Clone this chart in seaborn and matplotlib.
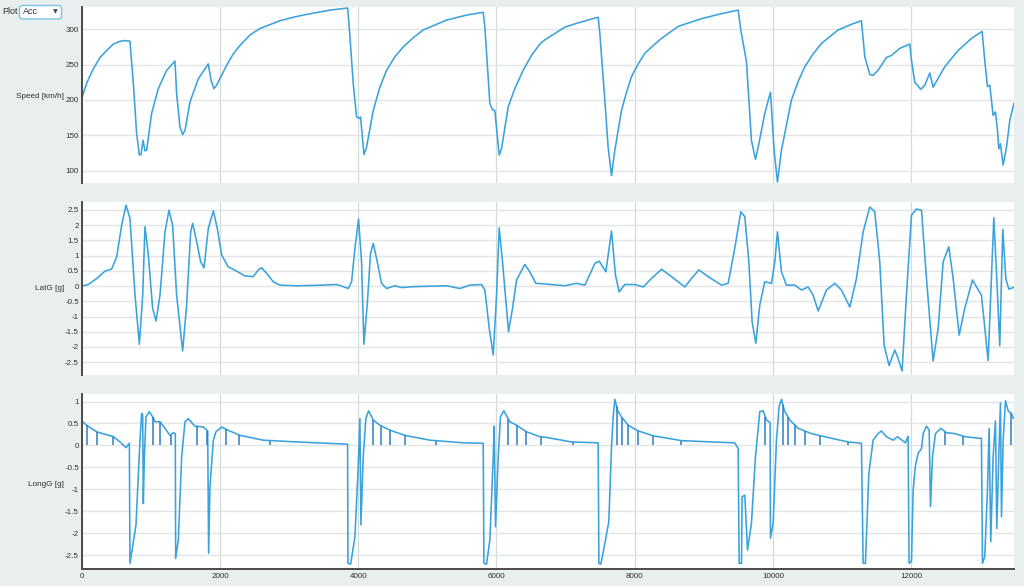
import numpy as np
import pandas as pd
import matplotlib
matplotlib.use('Agg')
import matplotlib.pyplot as plt
from matplotlib.patches import FancyBboxPatch
import seaborn as sns

# Speed trace [km/h] vs distance
speed_x = [0, 72, 168, 265, 361, 458, 554, 626, 698, 747, 795, 834, 858, 887, 915, 939, 1011, 1108,
           1229, 1349, 1373, 1421, 1460, 1494, 1566, 1687, 1831, 1870, 1913, 1952, 2096, 2192, 2289,
           2434, 2578, 2867, 3060, 3253, 3590, 3846, 3870, 3928, 3976, 4014, 4034, 4082, 4120, 4217,
           4313, 4410, 4530, 4651, 4796, 4940, 5278, 5567, 5808, 5832, 5904, 5943, 5976, 6039, 6073,
           6169, 6265, 6386, 6506, 6627, 6699, 6989, 7181, 7471, 7495, 7567, 7615, 7664, 7712, 7808,
           7881, 7953, 8050, 8146, 8267, 8387, 8628, 8965, 9254, 9496, 9534, 9616, 9688, 9746, 9785,
           9881, 9963, 10016, 10064, 10122, 10267, 10363, 10460, 10580, 10701, 10942, 11135, 11279,
           11328, 11400, 11448, 11520, 11641, 11713, 11834, 11979, 12003, 12051, 12138, 12196, 12268,
           12316, 12485, 12678, 12871, 13025, 13063, 13102, 13136, 13160, 13184, 13218, 13247, 13266,
           13290, 13329, 13377, 13425, 13487]
speed_v = [202, 224, 244, 260, 270, 279, 283, 284, 283, 223, 152, 122, 123, 143, 128, 129, 181, 216,
           242, 255, 209, 162, 151, 157, 197, 230, 251, 228, 216, 221, 249, 265, 277,
           292, 301, 312, 317, 321, 327, 330, 303, 223, 176, 174, 176, 123, 133, 185,
           218, 242, 261, 275, 288, 299, 313, 320, 324, 303, 195, 186, 185, 122, 131,
           190, 216, 242, 263, 279, 285, 303, 309, 317, 294, 200, 133, 93, 129, 185,
           211, 233, 251, 266, 277, 287, 304, 315, 322, 327, 299, 254, 143, 116, 133,
           181, 211, 129, 84, 129, 200, 226, 247, 265, 280, 299, 307, 312,
           261, 236, 235, 242, 260, 263, 273, 279, 256, 225, 215, 221, 238,
           218, 247, 270, 287, 297, 256, 219, 221, 200, 178, 183, 157, 131,
           138, 108, 133, 171, 196]

# Lateral acceleration [g]
latg_x = [0, 96, 217, 337, 433, 506, 578, 641, 698, 771, 834, 882, 915, 963, 1026, 1075, 1132, 1205,
          1262, 1315, 1373, 1460, 1518, 1576, 1605, 1663, 1720, 1769, 1831, 1904, 1961, 2024, 2120,
          2241, 2361, 2482, 2554, 2602, 2675, 2771, 2867, 3108, 3349, 3687, 3783, 3856, 3904, 3952,
          4005, 4048, 4082, 4130, 4178, 4217, 4265, 4337, 4410, 4530, 4627, 4796, 5278, 5471, 5615,
          5784, 5832, 5895, 5953, 6001, 6039, 6087, 6174, 6232, 6290, 6410, 6482, 6569, 6699, 6989,
          7158, 7278, 7423, 7485, 7582, 7664, 7721, 7774, 7856, 8001, 8122, 8242, 8387, 8531, 8724,
          8821, 8927, 9062, 9254, 9351, 9447, 9534, 9592, 9650, 9698, 9751, 9809, 9881, 9978, 10026,
          10064, 10122, 10194, 10315, 10412, 10508, 10580, 10653, 10773, 10894, 10990, 11111, 11207,
          11304, 11400, 11472, 11544, 11607, 11679, 11761, 11809, 11867, 11930, 12003, 12075, 12148,
          12220, 12316, 12389, 12461, 12543, 12606, 12693, 12774, 12885, 13015, 13112, 13150, 13194,
          13237, 13280, 13324, 13367, 13411, 13487]
latg_v = [0.0, 0.05, 0.25, 0.49, 0.56, 0.96, 2.0, 2.66, 2.22, -0.3, -1.91, -0.3, 1.95, 1.02, -0.73,
          -1.15, -0.3, 1.78, 2.49, 2.0, -0.3, -2.13, -0.62, 1.78, 2.06, 1.46, 0.8, 0.6, 1.89, 2.47,
          1.89, 1.02, 0.63, 0.49, 0.33, 0.31, 0.53, 0.6, 0.42, 0.14, 0.03, 0.01, 0.02, 0.05, -0.02,
          -0.08, 0.14, 1.24, 2.2, 0.8, -1.91, -0.62, 1.07, 1.4, 0.91, 0.09, -0.08, 0.01, -0.05, -0.02,
          0.01, -0.08, 0.03, 0.05, -0.13, -1.39, -2.26, -0.3, 1.91, 0.8, -1.5, -0.73, 0.2, 0.71, 0.47,
          0.09, 0.07, 0.01, 0.09, 0.03, 0.74, 0.82, 0.47, 1.81, 0.36, -0.19, 0.05, 0.05, -0.03, 0.25,
          0.55, 0.31, -0.03, 0.25, 0.53, 0.31, 0.03, 0.09, 1.24, 2.44, 2.28, 0.8, -1.17, -1.88, -0.62,
          0.14, 0.09, 0.8, 1.78, 0.47, 0.03, 0.03, -0.13, -0.03, -0.3, -0.82, -0.13, 0.09, -0.13,
          -0.69, 0.25, 1.78, 2.6, 2.44, 0.8, -1.94, -2.61, -2.1, -2.37, -2.79, -0.3, 2.33, 2.53, 2.49,
          0.25, -2.46, -1.39, 0.8, 1.29, 0.25, -1.61, -0.73, 0.2, -0.3, -2.45, -0.3, 2.24, 0.25, -1.96,
          1.86, 0.25, -0.1, -0.04]

# Longitudinal acceleration [g]
longg_x = [0, 72, 217, 458, 554, 641, 689, 698, 785, 843, 867, 882, 891, 906, 930, 978, 1026, 1060,
           1132, 1205, 1277, 1325, 1354, 1359, 1397, 1446, 1494, 1542, 1590, 1639, 1759, 1822, 1836,
           1855, 1904, 1942, 2024, 2096, 2289, 2627, 3108, 3846, 3851, 3890, 3952, 4000, 4024, 4039,
           4072, 4111, 4149, 4217, 4313, 4458, 4675, 5037, 5519, 5808, 5818, 5856, 5904, 5953, 5967,
           5986, 6025, 6058, 6106, 6193, 6290, 6434, 6627, 6699, 7085, 7471, 7481, 7510, 7567, 7625,
           7664, 7688, 7712, 7751, 7808, 7905, 8050, 8267, 8676, 9110, 9447, 9496, 9510, 9544, 9553,
           9592, 9631, 9688, 9746, 9809, 9857, 9905, 9958, 9963, 10002, 10050, 10088, 10122, 10170,
           10243, 10363, 10556, 10797, 11086, 11279, 11304, 11337, 11386, 11448, 11520, 11568, 11641,
           11737, 11800, 11867, 11915, 11954, 11968, 12003, 12027, 12061, 12099, 12148, 12172, 12220,
           12259, 12278, 12307, 12350, 12427, 12509, 12630, 12774, 13015, 13030, 13063, 13102, 13126,
           13150, 13184, 13218, 13237, 13266, 13290, 13305, 13329, 13363, 13401, 13449, 13478]
longg_v = [0.56, 0.46, 0.31, 0.2, 0.08, -0.05, 0.05, -2.68, -1.81, 0.12, 0.73, 0.69, -1.32, -0.26,
           0.65, 0.77, 0.65, 0.54, 0.54, 0.39, 0.23, 0.29, 0.27, -2.57, -2.15, -0.26, 0.54, 0.61,
           0.52, 0.44, 0.42, 0.33, -2.45, -0.94, 0.12, 0.31, 0.42, 0.36, 0.23, 0.12, 0.08, 0.03,
           -2.68, -2.7, -2.08, -0.48, 0.61, -1.81, -0.26, 0.61, 0.79, 0.58, 0.46, 0.35, 0.23, 0.12,
           0.06, 0.05, -2.68, -2.7, -2.15, -0.26, 0.44, -1.85, -0.26, 0.65, 0.79, 0.54, 0.46, 0.31,
           0.2, 0.19, 0.08, 0.06, -2.68, -2.7, -2.23, -1.73, -0.03, 0.65, 1.05, 0.8, 0.65, 0.46, 0.33,
           0.22, 0.11, 0.08, 0.06, -0.07, -2.68, -2.68, -1.17, -1.13, -2.38, -1.77, -0.26, 0.77, 0.79,
           0.58, 0.52, -2.11, -1.77, 0.12, 0.88, 1.05, 0.77, 0.58, 0.39, 0.27, 0.18, 0.08, 0.05,
           -2.68, -2.68, -0.64, 0.12, 0.27, 0.33, 0.2, 0.12, 0.2, 0.12, 0.06, 0.21, -2.68, -2.64,
           -1.02, -0.45, -0.18, -0.07, 0.27, 0.44, 0.35, -1.39, -0.26, 0.27, 0.39, 0.29, 0.27, 0.2,
           0.16, -2.68, -2.53, -1.02, 0.39, -2.19, -0.26, 0.56, -1.89, -0.26, 0.97, -1.62, 0.12, 1.02,
           0.79, 0.73, 0.61]

# Gear change markers drawn in the LongG panel
shift_x = [72, 217, 458, 1026, 1132, 1287, 1663, 1817, 2087, 2280, 2723, 4217, 4323, 4458, 4675,
           5123, 6169, 6290, 6424, 6641, 7109, 7736, 7818, 7905, 8050, 8267, 8676, 9890, 10146,
           10218, 10315, 10460, 10676, 11086, 12493, 12748, 13449]

x_ticks = [0, 2000, 4000, 6000, 8000, 10000, 12000]

sns.set_style('white')
plt.rcParams['font.family'] = ['Liberation Sans', 'DejaVu Sans']

line_c = '#3aa2dc'
stem_c = '#2b7fc6'
bg = '#e9eeee'

fig = plt.figure(figsize=(10.24, 5.86), dpi=100, facecolor=bg)
ax1 = fig.add_axes([0.0798, 0.6882, 0.9107, 0.2993])
ax2 = fig.add_axes([0.0798, 0.3601, 0.9107, 0.2957])
ax3 = fig.add_axes([0.0798, 0.0290, 0.9107, 0.2986])

panels = [
    (ax1, speed_x, speed_v, (83, 331), np.arange(100, 301, 50), 'Speed [km/h]', 97),
    (ax2, latg_x, latg_v, (-2.92, 2.77), np.arange(-2.5, 2.51, 0.5), 'LatG [g]', 289),
    (ax3, longg_x, longg_v, (-2.81, 1.17), np.arange(-2.5, 1.01, 0.5), 'LongG [g]', 484),
]

for ax, xs, ys, ylim, yt, label, ly in panels:
    df = pd.DataFrame({'x': xs, 'y': ys})
    ax.set_facecolor('white')
    sns.lineplot(data=df, x='x', y='y', ax=ax, color=line_c, linewidth=1.15,
                 estimator=None, sort=False, solid_joinstyle='round')
    ax.set_xlim(0, 13490)
    ax.set_ylim(*ylim)
    ax.set_yticks(yt)
    ax.set_yticklabels([f'{t:g}' for t in yt])
    ax.set_xticks(x_ticks)
    ax.set_xlabel('')
    ax.set_ylabel('')
    ax.grid(axis='y', color='#e1e5e5', linewidth=1.0)
    ax.grid(axis='x', color='#d3dada', linewidth=0.9)
    ax.set_axisbelow(True)
    for s in ['top', 'right', 'bottom']:
        ax.spines[s].set_visible(False)
    ax.spines['left'].set_color('#4a4a4a')
    ax.spines['left'].set_linewidth(1.4)
    ax.tick_params(axis='y', direction='in', length=8, width=1.4, color='#4a4a4a',
                   labelsize=5.8, labelcolor='#333333', pad=2)
    ax.tick_params(axis='x', length=0, labelbottom=False)
    fig.text(64 / 1024, 1 - ly / 586, label, ha='right', va='center',
             fontsize=5.9, color='#333333')

# stems from zero up to the LongG trace
stem_top = np.interp(shift_x, longg_x, longg_v)
ax3.vlines(shift_x, 0, stem_top, color=stem_c, linewidth=1.1, zorder=3)

ax3.spines['bottom'].set_visible(True)
ax3.spines['bottom'].set_color('#4a4a4a')
ax3.spines['bottom'].set_linewidth(1.4)
ax3.tick_params(axis='x', direction='in', length=8, width=1.4, color='#4a4a4a',
                labelbottom=True, labelsize=5.8, labelcolor='#333333', pad=3)

# "Plot" selector at the top left
fig.text(2 / 1024, 1 - 12 / 586, 'Plot', ha='left', va='center', fontsize=6.5, color='#333333')
box = FancyBboxPatch((19.5 / 1024, 1 - 19 / 586), 42 / 1024, 13.5 / 586,
                     boxstyle='round,pad=0,rounding_size=0.004', transform=fig.transFigure,
                     facecolor='white', edgecolor='#7cc3e3', linewidth=1.0)
fig.patches.append(box)
fig.text(23 / 1024, 1 - 12 / 586, 'Acc', ha='left', va='center', fontsize=6.5, color='#333333')
fig.text(55 / 1024, 1 - 12 / 586, '▼', ha='center', va='center', fontsize=4.5,
         color='#444444', family=['DejaVu Sans'])

fig.savefig('out.png', dpi=100, facecolor=bg)
